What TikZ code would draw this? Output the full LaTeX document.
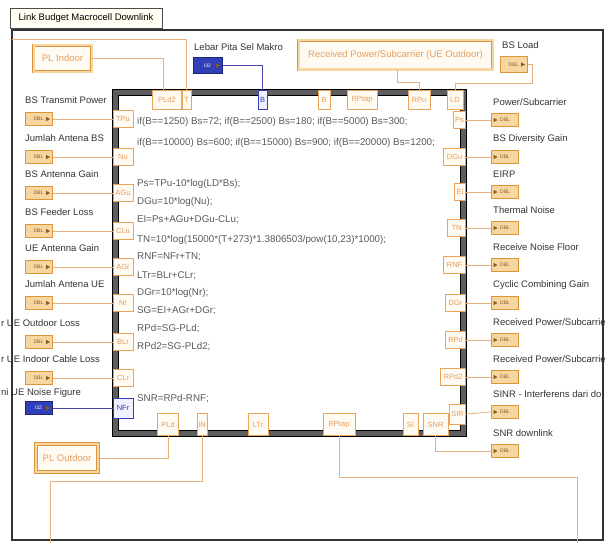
\documentclass[tikz,border=0pt]{standalone}
\usepackage{fontspec}
\setmainfont{Liberation Sans}
\usetikzlibrary{positioning}

\definecolor{wireorange}{HTML}{E8B07A}
\definecolor{termorange}{HTML}{EBA55A}
\definecolor{termtext}{HTML}{E4A060}
\definecolor{termfill}{HTML}{FFFAF2}
\definecolor{ctrlfill}{HTML}{F6D7A2}
\definecolor{ctrlborder}{HTML}{DE9438}
\definecolor{ctrltext}{HTML}{8A5A20}
\definecolor{lvblue}{HTML}{3040B8}
\definecolor{lvbluewire}{HTML}{4848A8}
\definecolor{bandgrey}{HTML}{5E5E5E}

\newcommand{\lblfont}{\fontsize{9.5}{11}\selectfont}
\newcommand{\codefont}{\fontsize{9.8}{11}\selectfont}
\newcommand{\termfont}{\fontsize{7.5}{8}\selectfont}
\newcommand{\tagfont}{\fontsize{5}{5}\selectfont}

\tikzset{
  wire/.style={draw=wireorange, line width=0.8pt},
  bluewire/.style={draw=lvbluewire, line width=0.8pt},
  term/.style={draw=termorange, line width=0.9pt, fill=termfill, text=termtext,
    font=\termfont, inner sep=1pt, minimum height=17pt, minimum width=10pt},
  blueterm/.style={term, draw=lvblue, text=lvblue, fill=blue!6},
  ctrl/.style={draw=ctrlborder, line width=1pt, fill=ctrlfill, text=ctrltext,
    font=\tagfont, minimum width=27pt, minimum height=13pt, inner sep=0pt,
    path picture={\fill[ctrltext] ([xshift=-2pt]path picture bounding box.east)
      -- ++(-4,2.2) -- ++(0,-4.4) -- cycle;}},
  bluectrl/.style={ctrl, draw=lvblue!60!black, fill=lvblue, text=white},
  ind/.style={draw=ctrlborder, line width=1pt, fill=ctrlfill, text=ctrltext,
    font=\tagfont, minimum width=27pt, minimum height=13pt, inner sep=0pt,
    path picture={\fill[ctrltext] ([xshift=6pt]path picture bounding box.west)
      -- ++(-4,2.2) -- ++(0,-4.4) -- cycle;}},
  tagbox/.style={draw=ctrlborder, line width=0.8pt, double=ctrlfill,
    double distance=2pt, fill=termfill, text=termtext, font=\lblfont, inner sep=2pt},
  fnode/.style={draw=black, line width=0.8pt, double=bandgrey, double distance=5.4pt},
  lbl/.style={font=\lblfont, text=black!80, inner sep=0pt, anchor=west},
  code/.style={font=\codefont, text=black!65, inner sep=0pt, anchor=west}
}

\begin{document}
\begin{tikzpicture}[x=1pt, y=-1pt]
  \clip (0,0) rectangle (610,543);
  \fill[white] (0,0) rectangle (610,543);

  % outer structure
  \draw[black!80, line width=1.2pt] (12,30) rectangle (603,540);
  \draw[black!80, line width=2pt] (12,30) -- (603,30);
  \node[draw=black!70, fill=yellow!6, font=\lblfont, inner sep=2pt,
    minimum width=152pt, minimum height=20pt] (title) at (86,18) {Link Budget Macrocell Downlink};

  % labels of controls and indicators
  \node[lbl] at (25,100) {BS Transmit Power};
  \node[lbl] at (25,138) {Jumlah Antena BS};
  \node[lbl] at (25,174) {BS Antenna Gain};
  \node[lbl] at (25,212) {BS Feeder Loss};
  \node[lbl] at (25,248) {UE Antenna Gain};
  \node[lbl] at (25,284) {Jumlah Antena UE};
  \node[lbl] at (1,323) {r UE Outdoor Loss};
  \node[lbl] at (1,359) {r UE Indoor Cable Loss};
  \node[lbl] at (1,393) {ni UE Noise Figure};

  \node[lbl] at (493,102) {Power/Subcarrier};
  \node[lbl] at (493,139) {BS Diversity Gain};
  \node[lbl] at (493,174) {EIRP};
  \node[lbl] at (493,210) {Thermal Noise};
  \node[lbl] at (493,247) {Receive Noise Floor};
  \node[lbl] at (493,285) {Cyclic Combining Gain};
  \node[lbl] at (493,322) {Received Power/Subcarrie};
  \node[lbl] at (493,359) {Received Power/Subcarrie};
  \node[lbl] at (493,394) {SINR - Interferens dari do};
  \node[lbl] at (493,433) {SNR downlink};

  \node[lbl] at (194,47) {Lebar Pita Sel Makro};
  \node[lbl] at (502,45) {BS Load};

  % formula node
  \node[fnode, minimum width=348pt, minimum height=341pt] (fn) at (289.5,263) {};
  \node[code] at (137,122) {if(B==1250) Bs=72; if(B==2500) Bs=180; if(B==5000) Bs=300;};
  \node[code] at (137,143) {if(B==10000) Bs=600; if(B==15000) Bs=900; if(B==20000) Bs=1200;};
  \node[code] at (137,184) {Ps=TPu-10*log(LD*Bs);};
  \node[code] at (137,202) {DGu=10*log(Nu);};
  \node[code] at (137,220) {EI=Ps+AGu+DGu-CLu;};
  \node[code] at (137,240) {TN=10*log(15000*(T+273)*1.3806503/pow(10,23)*1000);};
  \node[code] at (137,257) {RNF=NFr+TN;};
  \node[code] at (137,276) {LTr=BLr+CLr;};
  \node[code] at (137,293) {DGr=10*log(Nr);};
  \node[code] at (137,311) {SG=EI+AGr+DGr;};
  \node[code] at (137,329) {RPd=SG-PLd;};
  \node[code] at (137,347) {RPd2=SG-PLd2;};
  \node[code] at (137,399) {SNR=RPd-RNF;};

  % left terminals and controls
  \node[term, minimum width=20pt] (tTPu) at (123,119) {TPu};
  \node[term, minimum width=20pt] (tNu)  at (123,157) {Nu};
  \node[term, minimum width=20pt] (tAGu) at (123,193) {AGu};
  \node[term, minimum width=20pt] (tCLu) at (123,231) {CLu};
  \node[term, minimum width=20pt] (tAGr) at (123,267) {AGr};
  \node[term, minimum width=20pt] (tNr)  at (123,303) {Nr};
  \node[term, minimum width=20pt] (tBLr) at (123,342) {BLr};
  \node[term, minimum width=20pt] (tCLr) at (123,378) {CLr};
  \node[blueterm, minimum width=20pt, minimum height=20pt] (tNFr) at (123,408) {NFr};

  \node[ctrl] (cTPu) at (38.5,119) {DBL};
  \node[ctrl] (cNu)  at (38.5,157) {DBL};
  \node[ctrl] (cAGu) at (38.5,193) {DBL};
  \node[ctrl] (cCLu) at (38.5,231) {DBL};
  \node[ctrl] (cAGr) at (38.5,267) {DBL};
  \node[ctrl] (cNr)  at (38.5,303) {DBL};
  \node[ctrl] (cBLr) at (38.5,342) {DBL};
  \node[ctrl] (cCLr) at (38.5,378) {DBL};
  \node[bluectrl] (cNFr) at (38.5,408) {I32};

  \draw[wire] (cTPu.east) -- (tTPu.west);
  \draw[wire] (cNu.east) -- (tNu.west);
  \draw[wire] (cAGu.east) -- (tAGu.west);
  \draw[wire] (cCLu.east) -- (tCLu.west);
  \draw[wire] (cAGr.east) -- (tAGr.west);
  \draw[wire] (cNr.east) -- (tNr.west);
  \draw[wire] (cBLr.east) -- (tBLr.west);
  \draw[wire] (cCLr.east) -- (tCLr.west);
  \draw[bluewire] (cNFr.east) -- (tNFr.west);

  % right terminals and indicators
  \node[term, anchor=east, minimum width=12pt] (tPs)   at (466,120) {Ps};
  \node[term, anchor=east, minimum width=22pt] (tDGu)  at (466,157) {DGu};
  \node[term, anchor=east, minimum width=11pt] (tEI)   at (466,192) {EI};
  \node[term, anchor=east, minimum width=18pt] (tTN)   at (466,228) {TN};
  \node[term, anchor=east, minimum width=22pt] (tRNF)  at (466,265) {RNF};
  \node[term, anchor=east, minimum width=20pt] (tDGr)  at (466,303) {DGr};
  \node[term, anchor=east, minimum width=20pt] (tRPd)  at (466,340) {RPd};
  \node[term, anchor=east, minimum width=25pt] (tRPd2) at (466,377) {RPd2};

  \node[ind] (iPs)   at (505,120) {DBL};
  \node[ind] (iDGu)  at (505,157) {DBL};
  \node[ind] (iEI)   at (505,192) {DBL};
  \node[ind] (iTN)   at (505,228) {DBL};
  \node[ind] (iRNF)  at (505,265) {DBL};
  \node[ind] (iDGr)  at (505,303) {DBL};
  \node[ind] (iRPd)  at (505,340) {DBL};
  \node[ind] (iRPd2) at (505,377) {DBL};
  \node[ind] (iSIR)  at (505,412) {DBL};
  \node[ind] (iSNR)  at (505,451) {DBL};

  \draw[wire] (tPs.east) -- (iPs.west);
  \draw[wire] (tDGu.east) -- (iDGu.west);
  \draw[wire] (tEI.east) -- (iEI.west);
  \draw[wire] (tTN.east) -- (iTN.west);
  \draw[wire] (tRNF.east) -- (iRNF.west);
  \draw[wire] (tDGr.east) -- (iDGr.west);
  \draw[wire] (tRPd.east) -- (iRPd.west);
  \draw[wire] (tRPd2.east) -- (iRPd2.west);

  % top terminals
  \node[term, anchor=north, minimum width=29pt, minimum height=19pt] (tPLd2) at (167,90) {PLd2};
  \node[term, anchor=north, minimum width=9pt, minimum height=19pt] (tT) at (186.5,90) {T};
  \node[blueterm, anchor=north, minimum width=9pt, minimum height=19pt] (tB) at (262.5,90) {B};
  \node[term, anchor=north, minimum width=12pt, minimum height=19pt] (tBs) at (324,90) {B};
  \node[term, anchor=north, minimum width=30pt, minimum height=19pt] (tRPtap) at (362,90) {RPtap};
  \node[term, anchor=north, minimum width=22pt, minimum height=19pt] (tRPu) at (419,90) {RPu};
  \node[term, anchor=north, minimum width=16pt, minimum height=19pt] (tLD) at (455,90) {LD};

  % bottom terminals
  \node[term, anchor=south, minimum width=21pt, minimum height=22pt] (tPLd) at (168,436) {PLd};
  \node[term, anchor=south, minimum width=10pt, minimum height=22pt] (tIN) at (202,436) {IN};
  \node[term, anchor=south, minimum width=20pt, minimum height=22pt] (tLTr) at (258,436) {LTr};
  \node[term, anchor=south, minimum width=32pt, minimum height=22pt] (tRPtapB) at (339,436) {RPtap};
  \node[term, anchor=south, minimum width=15pt, minimum height=22pt] (tSI) at (410.5,436) {SI};
  \node[term, anchor=south, minimum width=25pt, minimum height=22pt] (tSNR) at (435.5,436) {SNR};
  \node[term, anchor=east, minimum width=16pt, minimum height=20pt] (tSIR) at (466,414) {SIR};

  \draw[wire] (tSIR.east) -- (iSIR.west);
  \draw[wire] (tSNR.south) |- (iSNR.west);

  % controls and indicators above and below
  \node[tagbox, minimum width=58pt, minimum height=26pt] (plin) at (62.5,58.5) {PL Indoor};
  \node[tagbox, minimum width=62pt, minimum height=28pt] (plout) at (67,458) {PL Outdoor};
  \node[tagbox, minimum width=194pt, minimum height=29pt] (rpout) at (395.5,55) {Received Power/Subcarrier (UE Outdoor)};
  \node[bluectrl, minimum width=29pt, minimum height=15pt] (cB) at (207.5,65.5) {I32};
  \node[ctrl, minimum height=15pt] (cLD) at (513.5,64.5) {DBL};

  \coordinate (tsrc) at (12,39);
  \coordinate (rpbend) at (397,82);
  \coordinate (ldbend) at (532,83);
  \coordinate (inbend) at (50,481);
  \coordinate (inend) at (50,543);
  \coordinate (rpbbend) at (577,477);
  \coordinate (rpbend2) at (577,543);

  \draw[wire] (plin.east) -| ([xshift=-4pt]tPLd2.north);
  \draw[wire] (tsrc) -| (tT.north);
  \draw[bluewire] (cB.east) -| (tB.north);
  \draw[wire] (rpout.south -| rpbend) -- (rpbend) -| (tRPu.north);
  \draw[wire] (cLD.east) -| (ldbend) -| (tLD.north);
  \draw[wire] (plout.east) -| (tPLd.south);
  \draw[wire] (tIN.south) |- (inbend) -- (inend);
  \draw[wire] (tRPtapB.south) |- (rpbbend) -- (rpbend2);
\end{tikzpicture}
\end{document}
